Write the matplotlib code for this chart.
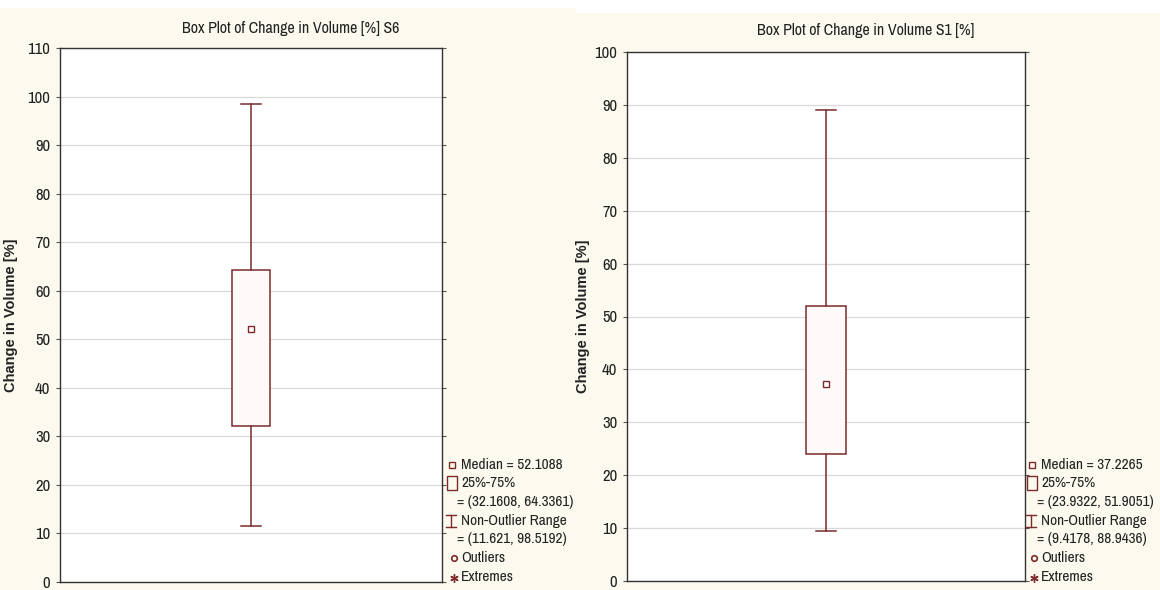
import matplotlib

matplotlib.use("Agg")
import matplotlib.font_manager as fm  # noqa: E402
import matplotlib.pyplot as plt  # noqa: E402
from matplotlib.lines import Line2D  # noqa: E402
from matplotlib.patches import Rectangle  # noqa: E402

# values
titles = ["Box Plot of Change in Volume [%] S6", "Box Plot of Change in Volume S1 [%]"]
medians = [52.1088, 37.2265]
q1s = [32.1608, 23.9322]
q3s = [64.3361, 51.9051]
whis_lo = [11.621, 9.4178]
whis_hi = [98.5192, 88.9436]
ymaxes = [110, 100]
med_labels = ["52.1088", "37.2265"]
q_labels = ["(32.1608, 64.3361)", "(23.9322, 51.9051)"]
rng_labels = ["(11.621, 98.5192)", "(9.4178, 88.9436)"]

BG = "#fcf9ee"
BOX = "#7b2b2b"
W, H = 1160, 590

# pick an Arial-Narrow-like face if one is around
_have = {f.name for f in fm.fontManager.ttflist}
NARROW = "DejaVu Sans"
for cand in ["Liberation Sans Narrow", "Arial Narrow", "Archivo Narrow",
             "PT Sans Narrow", "Roboto Condensed", "Sofia Sans Condensed"]:
    if cand in _have:
        NARROW = cand
        break
BOLD = "Liberation Sans" if "Liberation Sans" in _have else "DejaVu Sans"


def px(x, y):
    # pixel (from top-left) -> figure fraction
    return x / W, 1 - y / H


fig = plt.figure(figsize=(11.6, 5.9), dpi=100, facecolor=BG)
# thin white strips above the two pasted screenshots
fig.patches.append(Rectangle((0, 1 - 7 / H), 576 / W, 7 / H,
                             transform=fig.transFigure, color="white", zorder=0))
fig.patches.append(Rectangle((576 / W, 1 - 12 / H), 1 - 576 / W, 12 / H,
                             transform=fig.transFigure, color="white", zorder=0))

# axes frames in pixels: left, top, right, bottom
frames = [(60, 48, 442, 582), (627, 52, 1025, 581)]
title_pos = [(291, 28), (866, 31)]
ylab_px = [18, 590]
leg_px = [452, 1032]

for i in range(2):
    l, t, r, b = frames[i]
    ax = fig.add_axes([l / W, 1 - b / H, (r - l) / W, (b - t) / H])
    ax.set_facecolor("white")
    stats = [{"med": medians[i], "q1": q1s[i], "q3": q3s[i],
              "whislo": whis_lo[i], "whishi": whis_hi[i], "mean": medians[i],
              "fliers": []}]
    ax.bxp(stats, positions=[0.5], widths=0.102, showmeans=True, patch_artist=True,
           boxprops=dict(facecolor="#fffafa", edgecolor=BOX, linewidth=1.1),
           whiskerprops=dict(color=BOX, linewidth=1.1),
           capprops=dict(color=BOX, linewidth=1.1),
           capwidths=0.05,
           medianprops=dict(linestyle="none"),
           meanprops=dict(marker="s", markersize=5, markerfacecolor="white",
                          markeredgecolor=BOX, markeredgewidth=1.0))
    ax.set_xlim(0, 1)
    ax.set_ylim(0, ymaxes[i])
    ax.set_yticks(range(0, ymaxes[i] + 1, 10))
    ax.set_xticks([])
    ax.grid(axis="y", color="#d9d9d9", linewidth=0.9)
    ax.set_axisbelow(True)
    for s in ax.spines.values():
        s.set_color("#333333")
        s.set_linewidth(1.0)
    ax.tick_params(axis="y", direction="out", length=3, color="#555555",
                   right=True, labelsize=12, labelcolor="#222222", pad=4)
    for lab in ax.get_yticklabels():
        lab.set_family(NARROW)
    tx_, ty_ = px(*title_pos[i])
    fig.text(tx_, ty_, titles[i], family=NARROW, fontsize=11.5, color="#222222",
             ha="center", va="center")
    ax.set_ylabel("Change in Volume [%]", family=BOLD, fontsize=10.5,
                  fontweight="bold", color="#222222")
    ax.yaxis.set_label_coords((ylab_px[i] - l) / (r - l), 0.5)

    # Statistica-style legend in the right margin
    mx = leg_px[i]
    rows = [465, 483, 502, 521, 539, 558, 577]
    kw = dict(transform=fig.transFigure, color=BOX)
    fig.add_artist(Line2D(*zip(px(mx, rows[0])), marker="s", markersize=4.5,
                          markerfacecolor="none", markeredgecolor=BOX,
                          linestyle="none", transform=fig.transFigure))
    bx0, by0 = px(mx - 5, rows[1] + 7)
    fig.add_artist(Rectangle((bx0, by0), 10 / W, 14 / H, transform=fig.transFigure,
                             fill=False, edgecolor=BOX, linewidth=1.0))
    # I-beam for the non-outlier range
    y0, y1 = rows[3] - 6, rows[3] + 6
    for xs, ys in [((mx - 1, mx - 1), (y0, y1)), ((mx - 6, mx + 4), (y0, y0)),
                   ((mx - 6, mx + 4), (y1, y1))]:
        p0, p1 = px(xs[0], ys[0]), px(xs[1], ys[1])
        fig.add_artist(Line2D([p0[0], p1[0]], [p0[1], p1[1]], linewidth=1.0, **kw))
    fig.add_artist(Line2D(*zip(px(mx + 2, rows[5])), marker="o", markersize=4,
                          markerfacecolor="none", markeredgecolor=BOX,
                          markeredgewidth=1.2, linestyle="none",
                          transform=fig.transFigure))
    fig.add_artist(Line2D(*zip(px(mx + 2, rows[6] + 1)), marker=(6, 2, 0),
                          markersize=6, markeredgewidth=1.0, linestyle="none",
                          **kw))
    texts = ["Median = " + med_labels[i], "25%-75%", "= " + q_labels[i],
             "Non-Outlier Range", "= " + rng_labels[i], "Outliers", "Extremes"]
    for j, txt in enumerate(texts):
        x = mx + (5 if txt.startswith("=") else 9)
        fx, fy = px(x, rows[j])
        fig.text(fx, fy, txt, family=NARROW, fontsize=11, color="#222222",
                 va="center", ha="left")

fig.savefig("out.png", dpi=100, facecolor=BG)
